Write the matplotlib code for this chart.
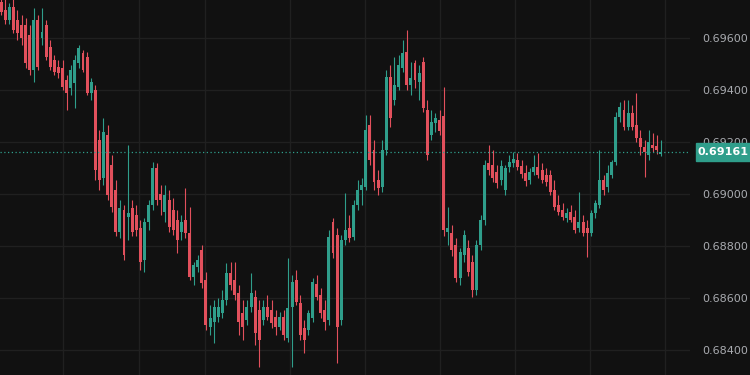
import numpy as np
import matplotlib
matplotlib.use("Agg")
import matplotlib.pyplot as plt
from matplotlib.patches import Rectangle

# OHLC prices, one entry per candle (left to right)
opens = [
    0.69738, 0.69708, 0.69669, 0.69719, 0.69669, 0.69650, 0.69650, 0.69611, 0.69477, 0.69669,
    0.69600, 0.69650, 0.69565, 0.69515, 0.69488, 0.69484, 0.69438, 0.69407, 0.69426, 0.69503,
    0.69542, 0.69527, 0.69388, 0.69400, 0.69207, 0.69061, 0.69226, 0.69111, 0.69015, 0.68853,
    0.68938, 0.68911, 0.68945, 0.68918, 0.68868, 0.68745, 0.68891, 0.68957, 0.69099, 0.68999,
    0.68930, 0.68976, 0.68938, 0.68899, 0.68853, 0.68899, 0.68849, 0.68680, 0.68718, 0.68784,
    0.68668, 0.68487, 0.68506, 0.68526, 0.68541, 0.68591, 0.68695, 0.68668, 0.68618, 0.68541,
    0.68514, 0.68564, 0.68603, 0.68553, 0.68514, 0.68564, 0.68553, 0.68526, 0.68487, 0.68526,
    0.68445, 0.68564, 0.68668, 0.68579, 0.68483, 0.68476, 0.68522, 0.68653, 0.68610, 0.68553,
    0.68514, 0.68891, 0.68841, 0.68514, 0.68822, 0.68868, 0.68834, 0.68957, 0.69015, 0.69026,
    0.69265, 0.69169, 0.69053, 0.69026, 0.69169, 0.69450, 0.69361, 0.69411, 0.69484, 0.69546,
    0.69419, 0.69503, 0.69430, 0.69507, 0.69323, 0.69226, 0.69272, 0.69284, 0.69299, 0.68853,
    0.68849, 0.68803, 0.68676, 0.68764, 0.68791, 0.68737, 0.68630, 0.68803, 0.68899, 0.69118,
    0.69111, 0.69084, 0.69053, 0.69015, 0.69103, 0.69118, 0.69130, 0.69107, 0.69080, 0.69053,
    0.69084, 0.69103, 0.69092, 0.69072, 0.69072, 0.69015, 0.68957, 0.68938, 0.68907, 0.68930,
    0.68911, 0.68868, 0.68891, 0.68868, 0.68849, 0.68926, 0.68957, 0.69053, 0.69026, 0.69072,
    0.69122, 0.69296, 0.69323, 0.69257, 0.69311, 0.69265, 0.69215, 0.69180, 0.69149, 0.69188,
    0.69184, 0.69153,
]
highs = [
    0.69765, 0.69750, 0.69734, 0.69752, 0.69708, 0.69688, 0.69677, 0.69650, 0.69715, 0.69688,
    0.69715, 0.69669, 0.69592, 0.69534, 0.69515, 0.69515, 0.69457, 0.69496, 0.69534, 0.69573,
    0.69554, 0.69546, 0.69446, 0.69419, 0.69246, 0.69292, 0.69265, 0.69149, 0.69053, 0.68976,
    0.68957, 0.69188, 0.68976, 0.68957, 0.68899, 0.68905, 0.68976, 0.69122, 0.69118, 0.69034,
    0.69034, 0.69015, 0.68984, 0.68938, 0.68918, 0.69022, 0.68949, 0.68737, 0.68764, 0.68803,
    0.68699, 0.68572, 0.68591, 0.68599, 0.68630, 0.68733, 0.68737, 0.68737, 0.68649, 0.68591,
    0.68591, 0.68695, 0.68630, 0.68591, 0.68591, 0.68610, 0.68591, 0.68553, 0.68545, 0.68553,
    0.68753, 0.68687, 0.68707, 0.68610, 0.68514, 0.68553, 0.68676, 0.68687, 0.68637, 0.68591,
    0.68861, 0.68907, 0.68868, 0.68841, 0.69003, 0.68918, 0.68976, 0.69053, 0.69061, 0.69303,
    0.69303, 0.69207, 0.69092, 0.69207, 0.69477, 0.69496, 0.69527, 0.69534, 0.69592, 0.69631,
    0.69507, 0.69515, 0.69496, 0.69527, 0.69361, 0.69323, 0.69311, 0.69323, 0.69411, 0.68949,
    0.68880, 0.68830, 0.68790, 0.68861, 0.68822, 0.68764, 0.68822, 0.68918, 0.69130, 0.69188,
    0.69169, 0.69111, 0.69130, 0.69111, 0.69149, 0.69161, 0.69157, 0.69130, 0.69111, 0.69099,
    0.69149, 0.69157, 0.69118, 0.69099, 0.69092, 0.69053, 0.68995, 0.68964, 0.68945, 0.68957,
    0.68938, 0.69007, 0.68918, 0.68899, 0.68938, 0.68976, 0.69169, 0.69072, 0.69111, 0.69130,
    0.69315, 0.69353, 0.69361, 0.69361, 0.69342, 0.69388, 0.69246, 0.69207, 0.69246, 0.69234,
    0.69226, 0.69207,
]
lows = [
    0.69688, 0.69654, 0.69654, 0.69619, 0.69592, 0.69573, 0.69484, 0.69457, 0.69430, 0.69477,
    0.69573, 0.69515, 0.69477, 0.69457, 0.69446, 0.69400, 0.69323, 0.69380, 0.69330, 0.69484,
    0.69469, 0.69380, 0.69361, 0.69053, 0.69015, 0.69034, 0.68976, 0.68930, 0.68837, 0.68830,
    0.68745, 0.68822, 0.68837, 0.68837, 0.68707, 0.68699, 0.68861, 0.68938, 0.68957, 0.68918,
    0.68891, 0.68853, 0.68841, 0.68772, 0.68822, 0.68830, 0.68668, 0.68649, 0.68699, 0.68637,
    0.68476, 0.68456, 0.68425, 0.68506, 0.68522, 0.68572, 0.68630, 0.68591, 0.68456, 0.68437,
    0.68495, 0.68545, 0.68418, 0.68333, 0.68495, 0.68514, 0.68483, 0.68456, 0.68476, 0.68437,
    0.68429, 0.68333, 0.68572, 0.68437, 0.68387, 0.68456, 0.68506, 0.68591, 0.68522, 0.68476,
    0.68495, 0.68753, 0.68348, 0.68495, 0.68803, 0.68814, 0.68822, 0.68938, 0.68957, 0.69015,
    0.69111, 0.69015, 0.68995, 0.69007, 0.69149, 0.69257, 0.69342, 0.69400, 0.69469, 0.69400,
    0.69380, 0.69407, 0.69361, 0.69315, 0.69130, 0.69207, 0.69238, 0.69226, 0.68837, 0.68803,
    0.68760, 0.68660, 0.68649, 0.68737, 0.68683, 0.68603, 0.68610, 0.68784, 0.68880, 0.69072,
    0.69045, 0.69022, 0.69034, 0.68995, 0.69084, 0.69103, 0.69092, 0.69061, 0.69030, 0.69038,
    0.69072, 0.69061, 0.69041, 0.69030, 0.68995, 0.68938, 0.68918, 0.68899, 0.68891, 0.68891,
    0.68849, 0.68853, 0.68837, 0.68757, 0.68837, 0.68907, 0.68945, 0.68995, 0.69007, 0.69061,
    0.69111, 0.69276, 0.69246, 0.69246, 0.69246, 0.69199, 0.69149, 0.69065, 0.69130, 0.69161,
    0.69153, 0.69145,
]
closes = [
    0.69700, 0.69669, 0.69719, 0.69631, 0.69619, 0.69600, 0.69503, 0.69477, 0.69669, 0.69488,
    0.69623, 0.69527, 0.69488, 0.69469, 0.69465, 0.69411, 0.69388, 0.69477, 0.69515, 0.69561,
    0.69477, 0.69388, 0.69430, 0.69092, 0.69053, 0.69238, 0.68995, 0.68949, 0.68853, 0.68945,
    0.68764, 0.68926, 0.68853, 0.68861, 0.68737, 0.68891, 0.68957, 0.69099, 0.68976, 0.68976,
    0.68995, 0.68872, 0.68861, 0.68822, 0.68891, 0.68849, 0.68680, 0.68726, 0.68745, 0.68656,
    0.68495, 0.68522, 0.68564, 0.68564, 0.68591, 0.68695, 0.68649, 0.68610, 0.68506, 0.68487,
    0.68564, 0.68618, 0.68464, 0.68437, 0.68564, 0.68526, 0.68502, 0.68487, 0.68526, 0.68456,
    0.68560, 0.68660, 0.68583, 0.68456, 0.68437, 0.68541, 0.68660, 0.68603, 0.68541, 0.68506,
    0.68834, 0.68772, 0.68487, 0.68822, 0.68861, 0.68830, 0.68957, 0.69015, 0.69034, 0.69246,
    0.69130, 0.69045, 0.69022, 0.69169, 0.69450, 0.69292, 0.69419, 0.69496, 0.69542, 0.69419,
    0.69446, 0.69438, 0.69465, 0.69330, 0.69149, 0.69276, 0.69292, 0.69242, 0.68861, 0.68868,
    0.68784, 0.68676, 0.68776, 0.68841, 0.68699, 0.68630, 0.68803, 0.68899, 0.69111, 0.69092,
    0.69061, 0.69041, 0.69107, 0.69099, 0.69122, 0.69134, 0.69103, 0.69076, 0.69049, 0.69084,
    0.69103, 0.69072, 0.69053, 0.69045, 0.69007, 0.68949, 0.68930, 0.68911, 0.68926, 0.68899,
    0.68861, 0.68891, 0.68849, 0.68849, 0.68926, 0.68964, 0.69053, 0.69015, 0.69080, 0.69122,
    0.69296, 0.69334, 0.69257, 0.69311, 0.69257, 0.69215, 0.69180, 0.69161, 0.69199, 0.69176,
    0.69169, 0.69161,
]
last_price = 0.69161
price_ticks = [0.684, 0.686, 0.688, 0.690, 0.692, 0.694, 0.696]
# vertical grid positions, in candle index units
time_grid = [15.1, 33.7, 49.8, 70.5, 88.8, 107.1, 125.4, 143.7, 162.0]

bg = "#111111"
grid_c = "#202020"
up_c = "#2f9e8b"
down_c = "#e2505c"

o = np.array(opens)
h = np.array(highs)
l = np.array(lows)
c = np.array(closes)
x = np.arange(len(c))
cols = np.where(c >= o, up_c, down_c)

fig = plt.figure(figsize=(7.5, 3.75), dpi=100, facecolor=bg)
ax = fig.add_axes([0, 0, 690 / 750, 1])
ax.set_facecolor(bg)

for t in price_ticks:
    ax.axhline(t, color=grid_c, lw=1, zorder=0)
for t in time_grid:
    ax.axvline(t, color=grid_c, lw=1, zorder=0)

ax.vlines(x, l, h, colors=cols, lw=0.8, zorder=2)
body_lo = np.minimum(o, c)
body_h = np.maximum(np.abs(c - o), 0.00002)
ax.bar(x, body_h, bottom=body_lo, width=0.72, color=cols, linewidth=0, zorder=3)

ax.axhline(last_price, color=up_c, lw=0.9, ls=(0, (1, 2)), zorder=4)

ax.set_xlim(-0.25, 168.1)
ax.set_ylim(0.68302, 0.69746)
ax.yaxis.tick_right()
ax.set_yticks(price_ticks)
ax.set_yticklabels([f"{t:.5f}" for t in price_ticks])
ax.tick_params(axis="y", length=0, pad=9, labelsize=8, labelcolor="#a9abb0")
ax.set_xticks([])
for s in ax.spines.values():
    s.set_visible(False)

# last price badge on the price scale
fig.patches.append(Rectangle((696 / 750, 1 - 161 / 375), 54 / 750, 18 / 375,
                             transform=fig.transFigure, color=up_c, zorder=10))
fig.text(723 / 750, 1 - 152 / 375, f"{last_price:.5f}", color="white",
         fontsize=8, fontweight="bold", ha="center", va="center", zorder=11)

fig.savefig("out.png", dpi=100, facecolor=bg)
